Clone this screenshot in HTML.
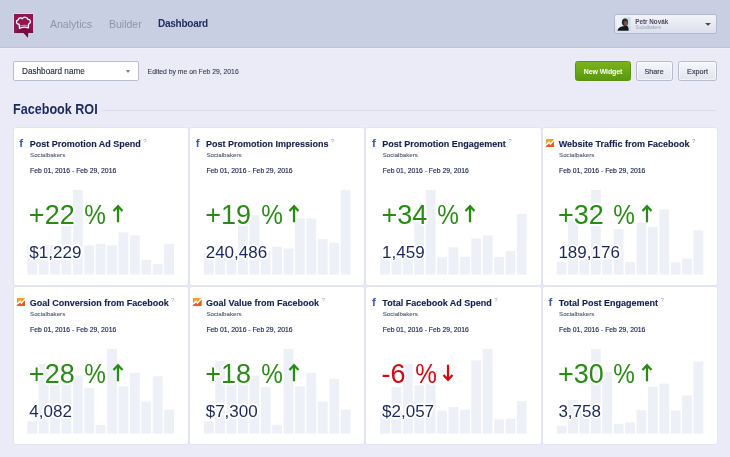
<!DOCTYPE html>
<html><head><meta charset="utf-8"><title>Dashboard</title>
<style>
*{margin:0;padding:0;box-sizing:border-box}
html,body{width:730px;height:457px;overflow:hidden}
body{will-change:transform;background:#eaebf6;font-family:"Liberation Sans",sans-serif;position:relative;color:#1b2a5c}
.hdr{position:absolute;left:0;top:0;width:730px;height:48px;background:#c9cfe2;border-bottom:1px solid #bfc5da;box-shadow:0 1px 0 #f0f1f9}
.logo{position:absolute;left:12.8px;top:12.8px}
.nav{position:absolute;top:17.7px;font-size:10.5px;line-height:12px;color:#8e94aa;white-space:nowrap}
.nav.b{font-weight:bold;color:#1d2d63;font-size:10px;letter-spacing:-0.25px;margin-top:.4px}
.user{position:absolute;left:614px;top:14px;width:103px;height:19.5px;border:1px solid #b4b9cf;border-radius:2px;background:linear-gradient(#f3f4f9,#dcdfeb)}
.user .av{position:absolute;left:2.4px;top:2px;filter:blur(.45px)}
.user .n1{position:absolute;left:20.3px;top:2.7px;font-size:6.3px;line-height:8px;font-weight:bold;color:#474c62;filter:blur(.6px);white-space:nowrap}
.user .n2{position:absolute;left:20.5px;top:10.2px;font-size:4.5px;line-height:6px;color:#9da1b4;filter:blur(.65px);white-space:nowrap}
.caret{position:absolute;width:0;height:0;border-left:3px solid transparent;border-right:3px solid transparent;border-top:3px solid #555b70}
.sel{position:absolute;left:13px;top:61px;width:126px;height:20px;border:1px solid #b9bdd3;border-radius:2px;background:#fff;font-size:8.2px;line-height:19.8px;padding-left:8px;color:#22283a;-webkit-text-stroke:.1px #22283a}
.ed{position:absolute;left:147.6px;top:67px;font-size:6.8px;line-height:10px;color:#363b50;white-space:nowrap;-webkit-text-stroke:.1px #363b50}
.btn{position:absolute;top:61px;height:20px;border-radius:2.5px;font-size:7.2px;line-height:19.8px;text-align:center;white-space:nowrap}
.btn.g{left:575px;width:56px;background:linear-gradient(#7bb41a,#589a0c);border:1px solid #5a930f;color:#fff;font-weight:bold;font-size:7px;letter-spacing:-0.1px}
.btn.w{background:linear-gradient(#f6f7fb,#e2e4ef);border:1px solid #b7bbd0;color:#33384e;-webkit-text-stroke:.15px #33384e;box-shadow:inset 0 0 0 1px rgba(255,255,255,.55)}
.h1{position:absolute;left:13.2px;top:101.13px;font-size:14.06px;line-height:16px;font-weight:bold;color:#1b2a5e;white-space:nowrap;transform:scaleX(.896);transform-origin:0 0}
.hr{position:absolute;left:102.4px;top:109.5px;width:614px;height:1px;background:#d9dcea}
.card{position:absolute;width:174px;height:157px;background:#fff;border-radius:2px;box-shadow:0 0 0 1px #e2e4f2}
.fb{position:absolute;left:4.9px;top:8.6px;font-size:11.5px;line-height:12px;font-weight:bold;color:#3d5ca8;width:5px;text-align:center}
.ga{position:absolute;left:3px;top:10.8px}
.t{position:absolute;left:15.8px;top:9.9px;font-size:9px;line-height:12px;font-weight:bold;color:#15204f;white-space:nowrap;-webkit-text-stroke:.12px #15204f}
.q{font-size:6px;font-weight:normal;color:#9fa4ba;position:relative;top:-4.3px;left:2.4px;-webkit-text-stroke:0}
.sb{position:absolute;left:16.2px;top:22.5px;font-size:6.15px;line-height:8px;color:#565b6e;white-space:nowrap;-webkit-text-stroke:.1px #565b6e}
.dt{position:absolute;left:16.2px;top:38px;font-size:6.8px;line-height:9px;color:#1a2552;-webkit-text-stroke:.15px #1a2552;white-space:nowrap}
.bars{position:absolute;left:0;top:0;fill:#edf0f6}
.in{position:absolute;top:0;width:100%;height:100%}
.pct{position:absolute;left:15px;top:70.7px;font-size:27px;line-height:32px;white-space:nowrap;word-spacing:1px;text-shadow:1px 0 #fff,-1px 0 #fff,0 1px #fff,0 -1px #fff,1px 1px #fff,-1px -1px #fff,1px -1px #fff,-1px 1px #fff,2px 0 1px #fff,-2px 0 1px #fff,0 2px 1px #fff,0 -2px 1px #fff,0 0 3px #fff,0 0 4px #fff}
.pct.g{color:#2b8a17}.pct.r{color:#cc0a16}
.pc{display:inline-block;transform:scaleX(.9)}
.ar{position:relative;margin-left:4.4px;top:-0.9px}
.val{position:absolute;left:15.5px;top:114.6px;font-size:17px;line-height:20px;color:#1b2a5c;white-space:nowrap;text-shadow:1px 0 #fff,-1px 0 #fff,0 1px #fff,0 -1px #fff,1px 1px #fff,-1px -1px #fff,1px -1px #fff,-1px 1px #fff,2px 0 1px #fff,-2px 0 1px #fff,0 2px 1px #fff,0 -2px 1px #fff,0 0 3px #fff,0 0 4px #fff}
</style></head><body>
<div class="hdr">
<svg class="logo" width="21.1" height="26" viewBox="-1 -1 21.1 26"><rect x="-.8" y="-.8" width="20.7" height="20.7" fill="#dbe4f2" opacity=".75"/><path d="M8.4 19.1 L15.3 19.1 L14.6 25 Z" fill="#dbe4f2" opacity=".6"/><rect width="19.1" height="19.1" fill="#8d1753"/><path d="M0 19.1 L1.5 19.1 L7 14.6 L14.6 14.2 L19.1 17.6 L19.1 19.1Z" fill="#74103f"/><path d="M9.4 19.1 L14.3 19.1 L14 24 Z" fill="#74103f"/><path d="M5.5 14.5 L5.1 10.2 C2 10.6 1.6 6.4 4.3 5.9 C4.6 3.6 7.4 3.4 8.3 4.8 C9.6 2.5 13.3 2.8 13.9 5.4 C16.8 5.2 17.4 9 14.6 10 L14.3 13.9 C11.5 12.7 8 13.1 5.5 14.5 Z" fill="none" stroke="#fff" stroke-width="1.25" stroke-linejoin="round"/><path d="M5.4 12.4 C8 11.1 11.6 10.9 14.4 11.9" fill="none" stroke="#fff" stroke-width=".8" opacity=".7"/></svg>
<div class="nav" style="left:50px">Analytics</div>
<div class="nav" style="left:109px">Builder</div>
<div class="nav b" style="left:158px">Dashboard</div>
<div class="user"><svg class="av" width="13.5" height="13.7" viewBox="0 0 13.5 13.7"><defs><linearGradient id="sky" x1="0" y1="0" x2="1" y2="0"><stop offset="0" stop-color="#f2f6fb"/><stop offset="1" stop-color="#c3dbf1"/></linearGradient></defs><rect width="13.5" height="13.7" fill="url(#sky)"/><path d="M.4 13.7 C1 10.6 3.6 9.6 6 9.2 L10.2 8.8 C11.4 10 11.8 12 11.6 13.7Z" fill="#17181d"/><ellipse cx="8" cy="5.3" rx="3.1" ry="3.7" fill="#2e2623"/><ellipse cx="8.9" cy="6.2" rx="1.9" ry="2.4" fill="#75574a"/></svg><div class="n1">Petr Novák</div><div class="n2">Socialbakers</div><div class="caret" style="left:90.2px;top:8px;border-top-color:#4b4c58;filter:drop-shadow(0 1px 0 rgba(255,255,255,.9))"></div></div>
</div>
<div class="sel">Dashboard name<div class="caret" style="left:111.6px;top:8px;border-left-width:2.7px;border-right-width:2.7px;border-top-color:#757a92"></div></div>
<div class="ed">Edited by me on Feb 29, 2016</div>
<div class="btn g">New Widget</div>
<div class="btn w" style="left:635.7px;width:36.9px">Share</div>
<div class="btn w" style="left:678px;width:39px">Export</div>
<div class="h1">Facebook ROI</div>
<div class="hr"></div>
<div class="card" style="left:14px;top:128px;width:174px"><svg class="bars" width="174" height="157" viewBox="0 0 174 157"><rect x="13.30" y="117.10" width="9.85" height="29.5"/><rect x="24.70" y="117.10" width="9.85" height="29.5"/><rect x="36.10" y="117.10" width="9.85" height="29.5"/><rect x="47.50" y="84.20" width="9.85" height="62.4"/><rect x="58.90" y="62.00" width="9.85" height="84.6"/><rect x="70.30" y="117.50" width="9.85" height="29.1"/><rect x="81.70" y="115.80" width="9.85" height="30.8"/><rect x="93.10" y="117.50" width="9.85" height="29.1"/><rect x="104.50" y="104.40" width="9.85" height="42.2"/><rect x="115.90" y="107.40" width="9.85" height="39.2"/><rect x="127.30" y="131.80" width="9.85" height="14.8"/><rect x="138.70" y="136.00" width="9.85" height="10.6"/><rect x="150.10" y="115.80" width="9.85" height="30.8"/></svg><div class="in" style="left:-0.15px"><div class="fb">f</div><div class="t">Post Promotion Ad Spend<span class="q">?</span></div><div class="sb">Socialbakers</div><div class="dt">Feb 01, 2016 - Feb 29, 2016</div><div class="pct g">+22 <span class="pc">%</span><svg class="ar" width="12" height="19" viewBox="0 0 12 19"><path d="M6 18.2 L6 1.6 M1.5 7.1 L6 2.2 L10.5 7.1" stroke="#2b8a17" stroke-width="2.25" fill="none"/></svg></div><div class="val">$1,229</div></div></div>
<div class="card" style="left:190px;top:128px;width:174px"><svg class="bars" width="174" height="157" viewBox="0 0 174 157"><rect x="13.80" y="124.60" width="9.85" height="22"/><rect x="25.20" y="124.60" width="9.85" height="22"/><rect x="36.60" y="124.60" width="9.85" height="22"/><rect x="48.00" y="87.20" width="9.85" height="59.4"/><rect x="59.40" y="87.20" width="9.85" height="59.4"/><rect x="70.80" y="123.60" width="9.85" height="23"/><rect x="82.20" y="118.70" width="9.85" height="27.9"/><rect x="93.60" y="120.50" width="9.85" height="26.1"/><rect x="105.00" y="90.40" width="9.85" height="56.2"/><rect x="116.40" y="90.40" width="9.85" height="56.2"/><rect x="127.80" y="110.90" width="9.85" height="35.7"/><rect x="139.20" y="114.80" width="9.85" height="31.8"/><rect x="150.60" y="62.00" width="9.85" height="84.6"/></svg><div class="in" style="left:0.2px"><div class="fb">f</div><div class="t">Post Promotion Impressions<span class="q">?</span></div><div class="sb">Socialbakers</div><div class="dt">Feb 01, 2016 - Feb 29, 2016</div><div class="pct g">+19 <span class="pc">%</span><svg class="ar" width="12" height="19" viewBox="0 0 12 19"><path d="M6 18.2 L6 1.6 M1.5 7.1 L6 2.2 L10.5 7.1" stroke="#2b8a17" stroke-width="2.25" fill="none"/></svg></div><div class="val">240,486</div></div></div>
<div class="card" style="left:366px;top:128px;width:175px"><svg class="bars" width="175" height="157" viewBox="0 0 175 157"><rect x="14.15" y="128.60" width="9.85" height="18"/><rect x="25.55" y="130.60" width="9.85" height="16"/><rect x="36.95" y="128.60" width="9.85" height="18"/><rect x="48.35" y="80.60" width="9.85" height="66"/><rect x="59.75" y="62.00" width="9.85" height="84.6"/><rect x="71.15" y="129.30" width="9.85" height="17.3"/><rect x="82.55" y="119.20" width="9.85" height="27.4"/><rect x="93.95" y="128.80" width="9.85" height="17.8"/><rect x="105.35" y="110.40" width="9.85" height="36.2"/><rect x="116.75" y="107.40" width="9.85" height="39.2"/><rect x="128.15" y="128.80" width="9.85" height="17.8"/><rect x="139.55" y="122.90" width="9.85" height="23.7"/><rect x="150.95" y="85.90" width="9.85" height="60.7"/></svg><div class="in" style="left:0.55px"><div class="fb">f</div><div class="t">Post Promotion Engagement<span class="q">?</span></div><div class="sb">Socialbakers</div><div class="dt">Feb 01, 2016 - Feb 29, 2016</div><div class="pct g">+34 <span class="pc">%</span><svg class="ar" width="12" height="19" viewBox="0 0 12 19"><path d="M6 18.2 L6 1.6 M1.5 7.1 L6 2.2 L10.5 7.1" stroke="#2b8a17" stroke-width="2.25" fill="none"/></svg></div><div class="val">1,459</div></div></div>
<div class="card" style="left:543px;top:128px;width:174px"><svg class="bars" width="174" height="157" viewBox="0 0 174 157"><rect x="13.70" y="134.10" width="9.85" height="12.5"/><rect x="25.10" y="90.60" width="9.85" height="56"/><rect x="36.50" y="130.60" width="9.85" height="16"/><rect x="47.90" y="62.00" width="9.85" height="84.6"/><rect x="59.30" y="131.20" width="9.85" height="15.4"/><rect x="70.70" y="101.00" width="9.85" height="45.6"/><rect x="82.10" y="134.10" width="9.85" height="12.5"/><rect x="93.50" y="94.60" width="9.85" height="52"/><rect x="104.90" y="99.00" width="9.85" height="47.6"/><rect x="116.30" y="81.30" width="9.85" height="65.3"/><rect x="127.70" y="134.30" width="9.85" height="12.3"/><rect x="139.10" y="130.60" width="9.85" height="16"/><rect x="150.50" y="102.20" width="9.85" height="44.4"/></svg><div class="in" style="left:-0.1px"><svg class="ga" width="8.5" height="8" viewBox="0 0 8.5 8"><rect width="8.5" height="8" fill="#f9a030"/><path d="M0 8 L0 6.6 L3.1 3.8 L4.4 5.4 L8.5 1.2 L8.5 8 Z" fill="#ea5a1f"/><path d="M0 6.3 L3.1 3.4 L4.4 5.1 L8.5 .7" stroke="#fff" stroke-width="1.45" fill="none"/></svg><div class="t">Website Traffic from Facebook<span class="q">?</span></div><div class="sb">Socialbakers</div><div class="dt">Feb 01, 2016 - Feb 29, 2016</div><div class="pct g">+32 <span class="pc">%</span><svg class="ar" width="12" height="19" viewBox="0 0 12 19"><path d="M6 18.2 L6 1.6 M1.5 7.1 L6 2.2 L10.5 7.1" stroke="#2b8a17" stroke-width="2.25" fill="none"/></svg></div><div class="val">189,176</div></div></div>
<div class="card" style="left:14px;top:287px;width:174px"><svg class="bars" width="174" height="157" viewBox="0 0 174 157"><rect x="13.30" y="134.30" width="9.85" height="12.3"/><rect x="24.70" y="77.10" width="9.85" height="69.5"/><rect x="36.10" y="94.60" width="9.85" height="52"/><rect x="47.50" y="90.60" width="9.85" height="56"/><rect x="58.90" y="88.60" width="9.85" height="58"/><rect x="70.30" y="101.10" width="9.85" height="45.5"/><rect x="81.70" y="137.80" width="9.85" height="8.8"/><rect x="93.10" y="62.00" width="9.85" height="84.6"/><rect x="104.50" y="99.30" width="9.85" height="47.3"/><rect x="115.90" y="85.90" width="9.85" height="60.7"/><rect x="127.30" y="114.60" width="9.85" height="32"/><rect x="138.70" y="89.20" width="9.85" height="57.4"/><rect x="150.10" y="122.60" width="9.85" height="24"/></svg><div class="in" style="left:-0.15px"><svg class="ga" width="8.5" height="8" viewBox="0 0 8.5 8"><rect width="8.5" height="8" fill="#f9a030"/><path d="M0 8 L0 6.6 L3.1 3.8 L4.4 5.4 L8.5 1.2 L8.5 8 Z" fill="#ea5a1f"/><path d="M0 6.3 L3.1 3.4 L4.4 5.1 L8.5 .7" stroke="#fff" stroke-width="1.45" fill="none"/></svg><div class="t">Goal Conversion from Facebook<span class="q">?</span></div><div class="sb">Socialbakers</div><div class="dt">Feb 01, 2016 - Feb 29, 2016</div><div class="pct g">+28 <span class="pc">%</span><svg class="ar" width="12" height="19" viewBox="0 0 12 19"><path d="M6 18.2 L6 1.6 M1.5 7.1 L6 2.2 L10.5 7.1" stroke="#2b8a17" stroke-width="2.25" fill="none"/></svg></div><div class="val">4,082</div></div></div>
<div class="card" style="left:190px;top:287px;width:174px"><svg class="bars" width="174" height="157" viewBox="0 0 174 157"><rect x="13.80" y="134.30" width="9.85" height="12.3"/><rect x="25.20" y="73.90" width="9.85" height="72.7"/><rect x="36.60" y="96.60" width="9.85" height="50"/><rect x="48.00" y="89.60" width="9.85" height="57"/><rect x="59.40" y="88.60" width="9.85" height="58"/><rect x="70.80" y="100.10" width="9.85" height="46.5"/><rect x="82.20" y="137.80" width="9.85" height="8.8"/><rect x="93.60" y="62.00" width="9.85" height="84.6"/><rect x="105.00" y="99.30" width="9.85" height="47.3"/><rect x="116.40" y="85.90" width="9.85" height="60.7"/><rect x="127.80" y="114.60" width="9.85" height="32"/><rect x="139.20" y="91.90" width="9.85" height="54.7"/><rect x="150.60" y="122.60" width="9.85" height="24"/></svg><div class="in" style="left:0.2px"><svg class="ga" width="8.5" height="8" viewBox="0 0 8.5 8"><rect width="8.5" height="8" fill="#f9a030"/><path d="M0 8 L0 6.6 L3.1 3.8 L4.4 5.4 L8.5 1.2 L8.5 8 Z" fill="#ea5a1f"/><path d="M0 6.3 L3.1 3.4 L4.4 5.1 L8.5 .7" stroke="#fff" stroke-width="1.45" fill="none"/></svg><div class="t">Goal Value from Facebook<span class="q">?</span></div><div class="sb">Socialbakers</div><div class="dt">Feb 01, 2016 - Feb 29, 2016</div><div class="pct g">+18 <span class="pc">%</span><svg class="ar" width="12" height="19" viewBox="0 0 12 19"><path d="M6 18.2 L6 1.6 M1.5 7.1 L6 2.2 L10.5 7.1" stroke="#2b8a17" stroke-width="2.25" fill="none"/></svg></div><div class="val">$7,300</div></div></div>
<div class="card" style="left:366px;top:287px;width:175px"><svg class="bars" width="175" height="157" viewBox="0 0 175 157"><rect x="14.15" y="124.10" width="9.85" height="22.5"/><rect x="25.55" y="100.00" width="9.85" height="46.6"/><rect x="36.95" y="76.80" width="9.85" height="69.8"/><rect x="48.35" y="98.30" width="9.85" height="48.3"/><rect x="59.75" y="97.10" width="9.85" height="49.5"/><rect x="71.15" y="123.70" width="9.85" height="22.9"/><rect x="82.55" y="120.00" width="9.85" height="26.6"/><rect x="93.95" y="122.70" width="9.85" height="23.9"/><rect x="105.35" y="73.40" width="9.85" height="73.2"/><rect x="116.75" y="62.00" width="9.85" height="84.6"/><rect x="128.15" y="132.30" width="9.85" height="14.3"/><rect x="139.55" y="131.80" width="9.85" height="14.8"/><rect x="150.95" y="114.10" width="9.85" height="32.5"/></svg><div class="in" style="left:0.55px"><div class="fb">f</div><div class="t">Total Facebook Ad Spend<span class="q">?</span></div><div class="sb">Socialbakers</div><div class="dt">Feb 01, 2016 - Feb 29, 2016</div><div class="pct r">-6 <span class="pc">%</span><svg class="ar" width="12" height="19" viewBox="0 0 12 19"><path d="M6 1.8 L6 17.4 M1.5 11.9 L6 16.8 L10.5 11.9" stroke="#cc0a16" stroke-width="2.25" fill="none"/></svg></div><div class="val">$2,057</div></div></div>
<div class="card" style="left:543px;top:287px;width:174px"><svg class="bars" width="174" height="157" viewBox="0 0 174 157"><rect x="13.70" y="138.70" width="9.85" height="7.9"/><rect x="25.10" y="113.00" width="9.85" height="33.6"/><rect x="36.50" y="124.00" width="9.85" height="22.6"/><rect x="47.90" y="62.00" width="9.85" height="84.6"/><rect x="59.30" y="85.00" width="9.85" height="61.6"/><rect x="70.70" y="136.80" width="9.85" height="9.8"/><rect x="82.10" y="135.40" width="9.85" height="11.2"/><rect x="93.50" y="123.20" width="9.85" height="23.4"/><rect x="104.90" y="99.80" width="9.85" height="46.8"/><rect x="116.30" y="96.60" width="9.85" height="50"/><rect x="127.70" y="123.70" width="9.85" height="22.9"/><rect x="139.10" y="108.40" width="9.85" height="38.2"/><rect x="150.50" y="74.40" width="9.85" height="72.2"/></svg><div class="in" style="left:-0.1px"><div class="fb">f</div><div class="t">Total Post Engagement<span class="q">?</span></div><div class="sb">Socialbakers</div><div class="dt">Feb 01, 2016 - Feb 29, 2016</div><div class="pct g">+30 <span class="pc">%</span><svg class="ar" width="12" height="19" viewBox="0 0 12 19"><path d="M6 18.2 L6 1.6 M1.5 7.1 L6 2.2 L10.5 7.1" stroke="#2b8a17" stroke-width="2.25" fill="none"/></svg></div><div class="val">3,758</div></div></div>
</body></html>
